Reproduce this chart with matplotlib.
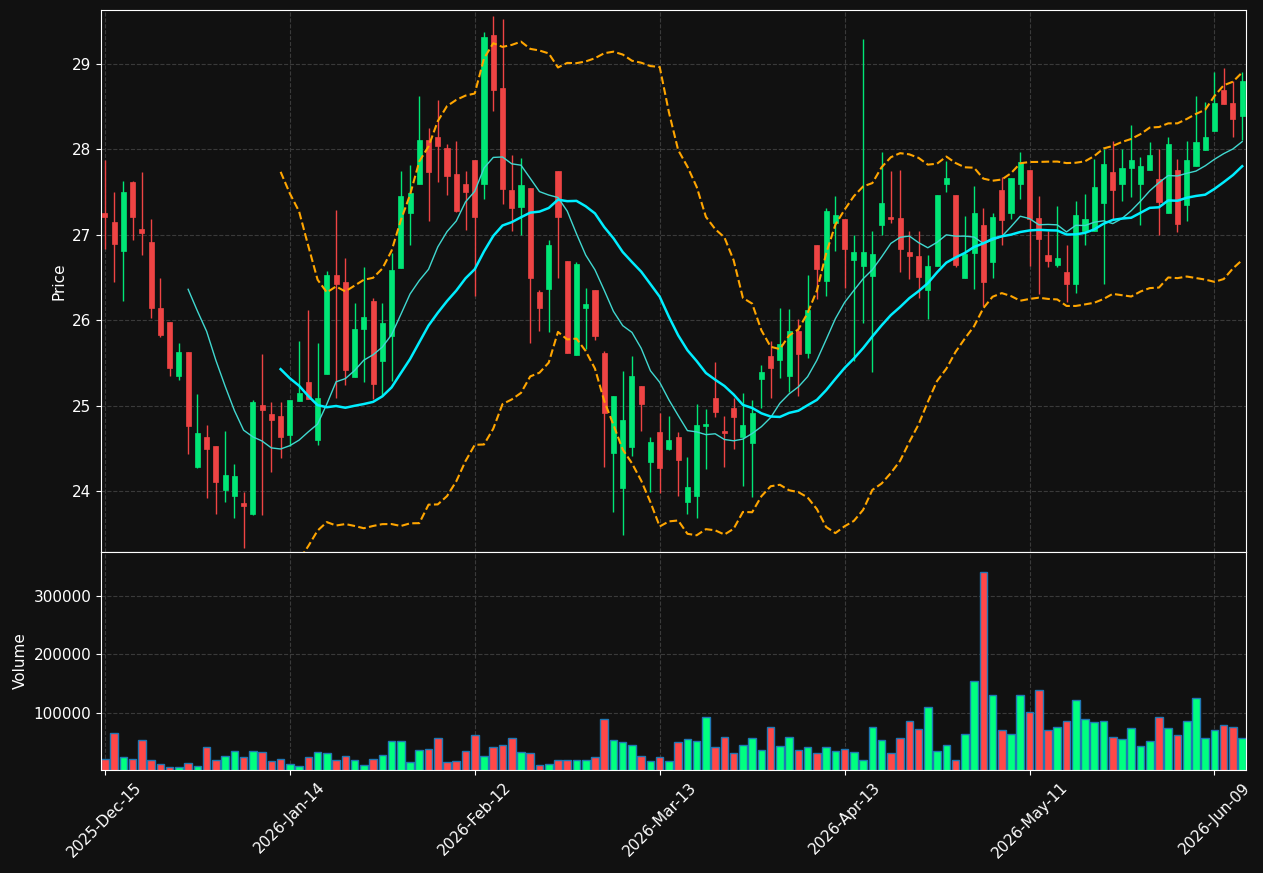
import numpy as np
import pandas as pd
import matplotlib
matplotlib.use("Agg")
from matplotlib import pyplot as plt
from matplotlib.patches import Rectangle

# OHLC, one entry per session
opens = [27.25, 27.15, 26.81, 27.62, 27.07, 26.92, 26.14, 25.98, 25.35, 25.63,
         24.28, 24.63, 24.53, 24.02, 23.94, 23.86, 23.73, 25.01, 24.90, 24.88,
         24.66, 25.06, 25.28, 24.60, 25.37, 26.53, 26.45, 25.34, 25.90, 26.23,
         25.52, 25.82, 26.61, 27.26, 27.60, 28.11, 28.14, 28.02, 27.71, 27.60,
         27.88, 27.60, 29.34, 28.72, 27.53, 27.33, 27.55, 26.33, 26.37, 27.75,
         26.70, 25.59, 26.15, 26.36, 25.62, 24.45, 24.04, 24.52, 25.23, 24.34,
         24.69, 24.50, 24.63, 23.87, 23.95, 24.76, 25.09, 24.70, 24.97, 24.63,
         24.56, 25.31, 25.58, 25.54, 25.35, 25.87, 25.62, 26.88, 26.46, 27.14,
         27.19, 26.71, 26.64, 26.52, 27.11, 27.21, 27.20, 26.80, 26.75, 26.35,
         26.63, 27.60, 27.47, 26.49, 26.79, 27.12, 26.68, 27.53, 27.25, 27.59,
         27.76, 27.20, 26.77, 26.65, 26.57, 26.43, 27.04, 27.05, 27.37, 27.74,
         27.59, 27.78, 27.59, 27.76, 27.65, 27.26, 27.76, 27.35, 27.80, 27.99,
         28.22, 28.70, 28.54, 28.39]
highs = [27.88, 27.50, 27.63, 27.63, 27.73, 27.19, 26.49, 25.98, 25.74, 25.63,
         25.14, 24.77, 24.53, 24.70, 24.32, 23.99, 25.07, 25.61, 25.05, 25.05,
         25.07, 25.76, 26.12, 25.74, 26.58, 27.29, 26.73, 26.20, 26.62, 26.26,
         26.20, 26.79, 27.75, 27.82, 28.63, 28.25, 28.58, 28.06, 28.10, 27.75,
         27.88, 29.37, 29.56, 29.53, 27.93, 27.90, 27.55, 26.35, 26.94, 27.75,
         26.70, 26.68, 26.38, 26.36, 25.64, 25.11, 25.41, 25.58, 25.23, 24.63,
         24.92, 24.88, 24.69, 24.40, 25.02, 24.96, 25.51, 24.88, 25.09, 25.15,
         25.07, 25.48, 25.76, 26.14, 26.13, 26.01, 26.53, 26.88, 27.32, 27.45,
         27.19, 27.00, 29.29, 27.04, 27.97, 27.75, 27.76, 27.05, 27.05, 26.76,
         27.47, 27.86, 27.47, 27.22, 27.57, 27.31, 27.25, 27.68, 27.67, 27.97,
         27.76, 27.45, 27.04, 27.34, 26.88, 27.40, 27.48, 27.89, 28.01, 28.10,
         28.01, 28.28, 27.91, 28.09, 28.01, 28.14, 27.89, 28.10, 28.62, 28.55,
         28.91, 28.95, 28.80, 28.90]
lows = [26.84, 26.45, 26.23, 26.94, 26.77, 26.03, 25.80, 25.35, 25.30, 24.44,
        24.27, 23.92, 23.74, 23.88, 23.69, 23.34, 23.72, 23.72, 24.23, 24.39,
        24.53, 25.06, 25.08, 24.54, 25.37, 25.09, 25.24, 25.34, 25.28, 25.08,
        25.13, 25.29, 26.61, 26.88, 27.60, 27.16, 27.62, 27.47, 27.27, 27.06,
        26.29, 27.42, 28.45, 27.36, 27.04, 27.00, 25.74, 25.87, 25.86, 26.50,
        25.62, 25.59, 25.67, 25.77, 24.28, 23.76, 23.49, 24.41, 24.71, 23.99,
        23.98, 24.48, 23.95, 23.74, 23.69, 24.26, 24.87, 24.28, 24.49, 24.06,
        23.93, 24.98, 25.09, 25.32, 25.16, 25.12, 25.56, 26.25, 26.29, 26.81,
        26.38, 25.53, 25.97, 25.40, 27.00, 27.14, 26.56, 26.48, 26.26, 26.02,
        26.63, 27.50, 26.62, 26.49, 26.37, 26.17, 26.49, 26.88, 27.19, 27.42,
        26.63, 26.31, 26.62, 26.62, 26.22, 26.32, 26.88, 27.05, 26.43, 27.19,
        27.40, 27.44, 27.11, 27.76, 27.00, 27.26, 27.03, 27.16, 27.80, 27.99,
        28.22, 28.53, 28.15, 28.11]
closes = [27.21, 26.89, 27.50, 27.21, 27.02, 26.14, 25.83, 25.44, 25.63, 24.76,
          24.68, 24.50, 24.11, 24.19, 24.18, 23.83, 25.05, 24.95, 24.83, 24.63,
          25.07, 25.15, 25.08, 25.09, 26.53, 26.43, 25.42, 25.90, 26.04, 25.26,
          25.97, 26.59, 27.45, 27.49, 28.11, 27.74, 28.04, 27.69, 27.28, 27.50,
          27.21, 29.31, 28.69, 27.54, 27.31, 27.58, 26.50, 26.14, 26.88, 27.21,
          25.62, 26.66, 26.19, 25.82, 24.92, 25.11, 24.83, 25.35, 25.02, 24.58,
          24.27, 24.60, 24.37, 24.05, 24.77, 24.79, 24.93, 24.68, 24.87, 24.78,
          24.92, 25.40, 25.44, 25.72, 25.87, 25.61, 26.12, 26.60, 27.28, 27.23,
          26.83, 26.80, 26.80, 26.78, 27.37, 27.19, 26.83, 26.75, 26.51, 26.63,
          27.47, 27.67, 26.65, 26.78, 27.26, 26.45, 27.21, 27.17, 27.67, 27.85,
          27.19, 26.95, 26.69, 26.73, 26.43, 27.23, 27.18, 27.56, 27.83, 27.53,
          27.78, 27.87, 27.80, 27.94, 27.39, 28.06, 27.13, 27.87, 28.09, 28.15,
          28.54, 28.53, 28.35, 28.80]
volumes = [21800, 65500, 23600, 21800, 52900, 20100, 13200, 7500, 7500, 14900,
           9800, 40800, 20100, 27000, 33900, 25300, 33900, 32200, 18400, 21800,
           13200, 9800, 23600, 32200, 30500, 20100, 27000, 20100, 11500, 21800,
           28700, 51100, 51100, 16700, 35600, 37400, 56300, 16700, 18400, 33900,
           61500, 27000, 40800, 44300, 56300, 32200, 30500, 11500, 13200, 20100,
           20100, 20100, 20100, 23600, 89100, 52900, 49400, 44300, 27000, 18400,
           25300, 18400, 49400, 54600, 51100, 92500, 40800, 58000, 30500, 44300,
           56300, 35600, 75300, 42500, 58000, 35600, 40800, 30500, 40800, 33900,
           37400, 32200, 20100, 75300, 52900, 30500, 56300, 85600, 71800, 109800,
           33900, 44300, 20100, 63200, 154600, 340800, 130500, 70100, 63200, 130500,
           101100, 139100, 70100, 75300, 85600, 121800, 89100, 83900, 85600, 58000,
           54600, 73600, 42500, 51100, 92500, 73600, 61500, 85600, 125300, 56300,
           70100, 78700, 75300, 56300]

tick_labels = ["2025-Dec-15", "2026-Jan-14", "2026-Feb-12", "2026-Mar-13",
               "2026-Apr-13", "2026-May-11", "2026-Jun-09"]

bg = "#111111"
up_c, down_c = "#00e676", "#ef4444"
vup_c, vdown_c = "#00ff80", "#ff4848"

df = pd.DataFrame({"Open": opens, "High": highs, "Low": lows,
                   "Close": closes, "Volume": volumes})
x = np.arange(len(df))
mav10 = df["Close"].rolling(10).mean()
mav20 = df["Close"].rolling(20).mean()
sd20 = df["Close"].rolling(20).std(ddof=0)
bb_up = mav20 + 2 * sd20
bb_lo = mav20 - 2 * sd20

plt.rcParams["font.family"] = "DejaVu Sans"
fig = plt.figure(figsize=(12.63, 8.73), dpi=100, facecolor=bg)
ax = fig.add_axes([0.080, 0.3677, 0.9066, 0.6208], facecolor=bg)
axv = fig.add_axes([0.080, 0.118, 0.9066, 0.2497], facecolor=bg, sharex=ax)

body_w = 0.55
for i, r in df.iterrows():
    up = r.Close >= r.Open
    c = up_c if up else down_c
    ax.vlines(i, r.Low, r.High, color=c, linewidth=1)
    lo = min(r.Open, r.Close)
    h = max(abs(r.Close - r.Open), 0.012)
    ax.add_patch(Rectangle((i - body_w / 2, lo), body_w, h, facecolor=c,
                           edgecolor=c, linewidth=0.5, zorder=3))

ax.plot(x, mav10, color="#40d8d0", linewidth=1.0, zorder=4)
ax.plot(x, mav20, color="#00eeff", linewidth=1.8, zorder=4)
ax.plot(x, bb_up, color="#ffa500", linewidth=1.5, linestyle="--", zorder=4)
ax.plot(x, bb_lo, color="#ffa500", linewidth=1.5, linestyle="--", zorder=4)

vcols = [vup_c if c >= o else vdown_c for o, c in zip(opens, closes)]
axv.bar(x, df["Volume"], width=0.82, color=vcols, edgecolor="#1f77b4",
        linewidth=1.0)

ax.set_ylim(23.29, 29.63)
axv.set_ylim(0.3 * min(volumes), 1.1 * max(volumes))
ax.set_xlim(-0.42, len(df) - 0.58)
ax.set_ylabel("Price", color="white", fontsize=11)
axv.set_ylabel("Volume", color="white", fontsize=11)
axv.set_yticks([100000, 200000, 300000])

ticks = list(range(0, len(df), 20))
axv.set_xticks(ticks)
axv.set_xticklabels(tick_labels, rotation=45)
plt.setp(ax.get_xticklabels(), visible=False)

for a in (ax, axv):
    a.grid(True, color="#3a3a3a", linestyle="--", linewidth=0.8)
    a.set_axisbelow(True)
    a.tick_params(colors="white", labelsize=11)
    for s in a.spines.values():
        s.set_color("white")

fig.savefig("out.png", dpi=100, facecolor=bg)
